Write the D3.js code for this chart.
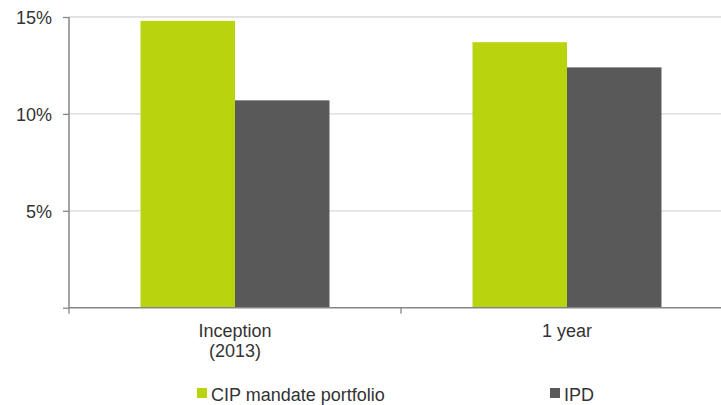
<!DOCTYPE html>
<html>
<head>
<meta charset="utf-8">
<script src="https://cdn.jsdelivr.net/npm/d3@7/dist/d3.min.js"></script>
<style>
  html, body { margin: 0; padding: 0; background: #fff; }
  svg { display: block; }
  text { font-family: "Liberation Sans", Arial, sans-serif; fill: #333; }
</style>
</head>
<body>
<svg id="chart" width="721" height="405"></svg>
<script>
// Annualised returns by period
const categories = ["Inception\n(2013)", "1 year"];
const seriesNames = ["CIP mandate portfolio", "IPD"];
const cipValues = [14.8, 13.7];
const ipdValues = [10.7, 12.4];
const yTicks = [5, 10, 15];
const colors = ["#b9d30f", "#595959"];

const svg = d3.select("#chart");
const W = 721, H = 405;
const x0 = 69, x1 = 733, y0 = 307.7, y1 = 17;

const x = d3.scaleBand().domain(categories).range([x0, x1]).padding(0);
const xs = d3.scaleBand().domain(seriesNames).range([0, x.bandwidth()])
  .paddingInner(0).paddingOuter(0.757);
const y = d3.scaleLinear().domain([0, 15]).range([y0, y1]);

// gridlines
svg.append("g").selectAll("line").data(yTicks).join("line")
  .attr("x1", x0).attr("x2", W)
  .attr("y1", d => y(d)).attr("y2", d => y(d))
  .attr("stroke", "#d9d9d9").attr("stroke-width", 1.3);

// bars
const rows = categories.map((c, i) => ({ c, vals: [cipValues[i], ipdValues[i]] }));
const g = svg.append("g");
rows.forEach(r => {
  r.vals.forEach((v, j) => {
    g.append("rect")
      .attr("x", x(r.c) + xs(seriesNames[j]))
      .attr("y", y(v))
      .attr("width", xs.bandwidth())
      .attr("height", y(0) - y(v))
      .attr("fill", colors[j]);
  });
});

// y axis
const yAxis = d3.axisLeft(y).tickValues([0, ...yTicks]).tickSize(6)
  .tickFormat(d => d === 0 ? "" : d + "%");
const ya = svg.append("g").attr("transform", `translate(${x0},0)`).call(yAxis);
ya.select(".domain").attr("stroke", "#868686").attr("stroke-width", 1.5)
  .attr("d", `M0,${y1}V${y0 + 0.5}`);
ya.selectAll(".tick line").attr("stroke", "#868686").attr("stroke-width", 1.3);
ya.selectAll(".tick text").attr("x", -17).attr("dy", "0.36em")
  .style("font-size", "18px").attr("fill", "#333");

// x axis
const xAxis = d3.axisBottom(x).tickSize(0).tickFormat("");
const xa = svg.append("g").attr("transform", `translate(0,${y0})`).call(xAxis);
xa.select(".domain").attr("stroke", "#868686").attr("stroke-width", 1.5)
  .attr("d", `M${x0},0H${W}`);
xa.selectAll(".tick").remove();
// category separators
svg.append("g").selectAll("line").data([x0, x(categories[1])]).join("line")
  .attr("x1", d => d).attr("x2", d => d)
  .attr("y1", y0).attr("y2", y0 + 6)
  .attr("stroke", "#868686").attr("stroke-width", 1.3);

// category labels
const lab = svg.append("g").selectAll("text").data(categories).join("text")
  .attr("text-anchor", "middle")
  .attr("x", d => x(d) + x.bandwidth() / 2)
  .attr("y", 336.5)
  .style("font-size", "18px");
lab.each(function(d) {
  const t = d3.select(this);
  d.split("\n").forEach((line, i) => {
    t.append("tspan").attr("x", x(d) + x.bandwidth() / 2)
      .attr("dy", i === 0 ? 0 : 20).text(line);
  });
});

// legend
const legendX = [197, 550];
const leg = svg.append("g").selectAll("g").data(seriesNames).join("g")
  .attr("transform", (d, i) => `translate(${legendX[i]},388)`);
leg.append("rect").attr("width", 10).attr("height", 10)
  .attr("fill", (d, i) => colors[i]);
leg.append("text").attr("x", 14).attr("y", 12.5)
  .style("font-size", "18px").text(d => d);
</script>
</body>
</html>
